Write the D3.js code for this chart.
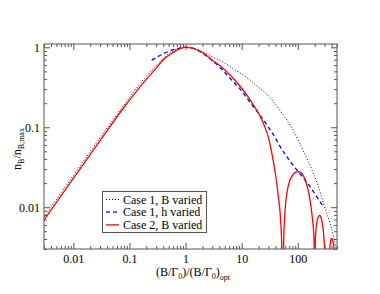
<!DOCTYPE html>
<html>
<head>
<meta charset="utf-8">
<script src="https://cdn.jsdelivr.net/npm/d3@7"></script>
<style>
  html, body { margin: 0; padding: 0; background: #fff; }
  svg text { font-family: "Liberation Serif", "DejaVu Serif", serif; }
</style>
</head>
<body>
<div id="chart"></div>
<script>
// Data
const seriesNames = ["Case 1, B varied", "Case 1, h varied", "Case 2, B varied"];

const case1BX = [0.003, 0.01, 0.03, 0.08, 0.18, 0.3, 0.5, 0.7, 1, 1.4, 1.81, 3, 4.72, 8, 12.3, 20, 27.9, 48, 83, 125, 180, 230, 286, 327, 400, 462, 520];
const case1BY = [0.0075, 0.025, 0.074, 0.19, 0.40, 0.59, 0.83, 0.95, 1.0, 0.97, 0.91, 0.76, 0.65, 0.51, 0.42, 0.316, 0.26, 0.162, 0.091, 0.051, 0.029, 0.0186, 0.0112, 0.0084, 0.0055, 0.0035, 0.0025];

const case1hX = [0.25, 0.35, 0.5, 0.7, 1, 1.4, 2, 3, 4.1, 6.4, 9.4, 14.1, 21.4, 35, 55.7, 90, 145, 200, 285];
const case1hY = [0.69, 0.79, 0.89, 0.96, 1.0, 0.97, 0.84, 0.68, 0.56, 0.40, 0.30, 0.205, 0.14, 0.085, 0.049, 0.031, 0.0205, 0.0148, 0.0102];

const case2X = [0.003, 0.01, 0.03, 0.08, 0.18, 0.3, 0.41, 0.6, 0.8, 1, 1.3, 2, 3.1, 4.5, 6.4, 8.75, 12.3, 15.1, 21, 26, 30, 34, 37, 41, 45, 49.8, 52, 54,
                56, 59, 65, 73, 83, 95, 102, 115, 135, 155, 178, 195, 198, 200,
                202, 210, 225, 245, 265, 285, 305, 330,
                360, 372, 385, 403, 420, 440, 458, 470];
const case2Y = [0.0069, 0.023, 0.068, 0.178, 0.365, 0.55, 0.71, 0.86, 0.96, 1.0, 0.98, 0.86, 0.68, 0.56, 0.44, 0.345, 0.255, 0.205, 0.14, 0.1, 0.074, 0.05, 0.036, 0.023, 0.0136, 0.0063, 0.003, 0.00001,
                0.0035, 0.0085, 0.016, 0.022, 0.0258, 0.0276, 0.0279, 0.027, 0.022, 0.0157, 0.0084, 0.0039, 0.002, 0.00001,
                0.0025, 0.005, 0.0071, 0.0079, 0.0071, 0.005, 0.0025, 0.00001,
                0.0015, 0.003, 0.0037, 0.0041, 0.0038, 0.0032, 0.0025, 0.00001];

const xMajor = [0.01, 0.1, 1, 10, 100];
const xMajorLabels = ["0.01", "0.1", "1", "10", "100"];
const yMajor = [0.01, 0.1, 1];
const yMajorLabels = ["0.01", "0.1", "1"];

const W = 380, H = 294;
const plot = { left: 44, right: 337, top: 44, bottom: 249 };

const svg = d3.select("#chart").append("svg")
    .attr("width", W)
    .attr("height", H);

const x = d3.scaleLog().domain([0.003, 500]).range([plot.left, plot.right]);
const y = d3.scaleLog().domain([0.003, 1.1]).range([plot.bottom, plot.top]);

// minor ticks: 2..9 per decade, inside domain
function minors(scale) {
    const [a, b] = scale.domain();
    const out = [];
    for (let e = -4; e <= 3; e++) {
        for (let m = 2; m <= 9; m++) {
            const v = m * Math.pow(10, e);
            if (v >= a * 0.999 && v <= b * 1.001) out.push(v);
        }
    }
    return out;
}

const axisColor = "#555";

function drawAxis(axis, transform, withLabels) {
    const g = svg.append("g").attr("transform", transform).call(axis);
    g.select(".domain").remove();
    g.selectAll(".tick line").attr("stroke", axisColor);
    if (!withLabels) g.selectAll(".tick text").remove();
    return g;
}

// bottom axis
const xb = drawAxis(d3.axisBottom(x).tickValues(xMajor).tickSize(-6).tickPadding(5)
    .tickFormat((d, i) => xMajorLabels[i]), `translate(0,${plot.bottom})`, true);
xb.selectAll(".tick text").attr("font-size", 12).attr("fill", "#000");
drawAxis(d3.axisBottom(x).tickValues(minors(x)).tickSize(-3), `translate(0,${plot.bottom})`, false);
// top axis (mirrored)
drawAxis(d3.axisTop(x).tickValues(xMajor).tickSize(-6), `translate(0,${plot.top})`, false);
drawAxis(d3.axisTop(x).tickValues(minors(x)).tickSize(-3), `translate(0,${plot.top})`, false);

// left axis
const yl = drawAxis(d3.axisLeft(y).tickValues(yMajor).tickSize(-6).tickPadding(4)
    .tickFormat((d, i) => yMajorLabels[i]), `translate(${plot.left},0)`, true);
yl.selectAll(".tick text").attr("font-size", 12).attr("fill", "#000");
drawAxis(d3.axisLeft(y).tickValues(minors(y)).tickSize(-3), `translate(${plot.left},0)`, false);
// right axis (mirrored)
drawAxis(d3.axisRight(y).tickValues(yMajor).tickSize(-6), `translate(${plot.right},0)`, false);
drawAxis(d3.axisRight(y).tickValues(minors(y)).tickSize(-3), `translate(${plot.right},0)`, false);

// clip
svg.append("clipPath").attr("id", "clip")
    .append("rect")
    .attr("x", plot.left).attr("y", plot.top)
    .attr("width", plot.right - plot.left)
    .attr("height", plot.bottom - plot.top);

const line = d3.line()
    .x(d => x(d[0]))
    .y(d => y(d[1]))
    .curve(d3.curveMonotoneX);

const series = [
    { name: seriesNames[0], xs: case1BX, ys: case1BY, color: "#000", dash: "1,2", width: 1 },
    { name: seriesNames[1], xs: case1hX, ys: case1hY, color: "#0000ff", dash: "4,3", width: 1.3 },
    { name: seriesNames[2], xs: case2X, ys: case2Y, color: "#ff0000", dash: null, width: 1.3 }
];

const lines = svg.append("g").attr("clip-path", "url(#clip)");
series.forEach(s => {
    lines.append("path")
        .datum(s.xs.map((v, i) => [v, s.ys[i]]))
        .attr("d", line)
        .attr("fill", "none")
        .attr("stroke", s.color)
        .attr("stroke-width", s.width)
        .attr("stroke-dasharray", s.dash);
});

// frame
svg.append("rect")
    .attr("x", plot.left).attr("y", plot.top)
    .attr("width", plot.right - plot.left)
    .attr("height", plot.bottom - plot.top)
    .attr("fill", "none")
    .attr("stroke", axisColor)
    .attr("stroke-width", 1);

// legend
const lg = svg.append("g");
lg.append("rect")
    .attr("x", 102.5).attr("y", 191.5)
    .attr("width", 104).attr("height", 41)
    .attr("fill", "#fff")
    .attr("stroke", axisColor);
series.forEach((s, i) => {
    const ly = 199.5 + i * 12.7;
    lg.append("line")
        .attr("x1", 106).attr("x2", 119)
        .attr("y1", ly).attr("y2", ly)
        .attr("stroke", s.color)
        .attr("stroke-width", s.width)
        .attr("stroke-dasharray", s.dash);
    lg.append("text")
        .attr("x", 123).attr("y", ly)
        .attr("dy", "0.35em")
        .attr("font-size", 12)
        .text(s.name);
});

// axis labels
const xl = svg.append("text")
    .attr("x", 193).attr("y", 276)
    .attr("text-anchor", "middle")
    .attr("font-size", 12);
xl.append("tspan").text("(B/Γ");
xl.append("tspan").attr("font-size", 8).attr("dy", 3).text("0");
xl.append("tspan").attr("dy", -3).text(")/(B/Γ");
xl.append("tspan").attr("font-size", 8).attr("dy", 3).text("0");
xl.append("tspan").attr("dy", -3).text(")");
xl.append("tspan").attr("font-size", 8).attr("dy", 4).text("opt");

const yLab = svg.append("text")
    .attr("transform", "translate(21,149) rotate(-90)")
    .attr("text-anchor", "middle")
    .attr("font-size", 12);
yLab.append("tspan").text("n");
yLab.append("tspan").attr("font-size", 8).attr("dy", 3).text("B");
yLab.append("tspan").attr("dy", -3).text("/n");
yLab.append("tspan").attr("font-size", 8).attr("dy", 3).text("B,max");
</script>
</body>
</html>
